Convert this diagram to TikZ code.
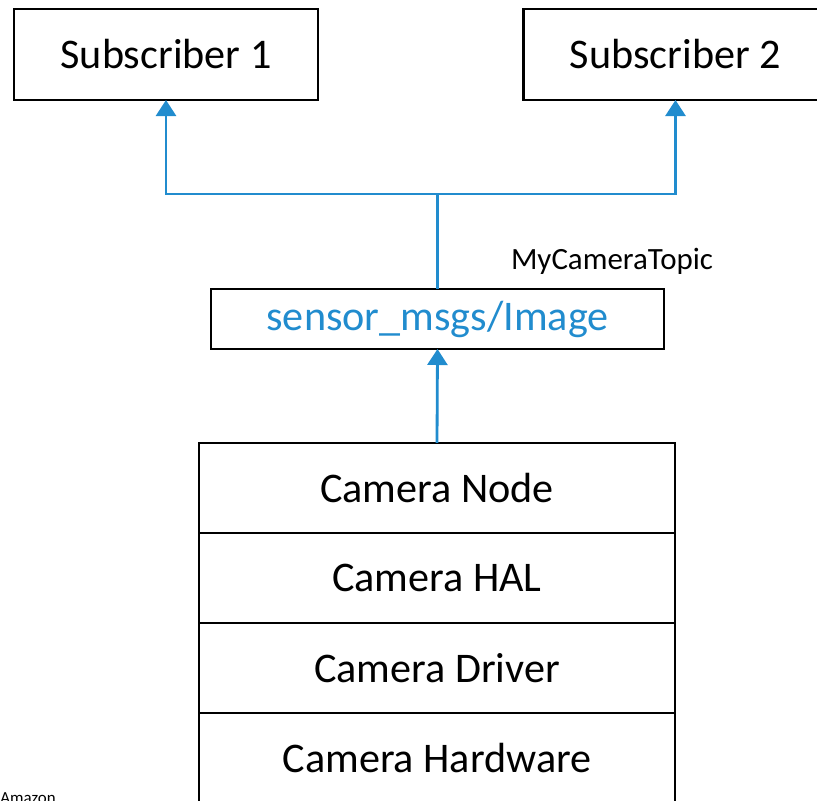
\documentclass[tikz,border=0pt]{standalone}
\usepackage{fontspec}
\setmainfont{Carlito}
\usepackage{xcolor}
\usetikzlibrary{positioning,arrows.meta}
\definecolor{rosblue}{RGB}{33,140,206}

\tikzset{
  box/.style={draw, line width=1.6pt, inner sep=0pt, outer sep=0pt, font=\fontsize{30}{36}\selectfont},
  layer/.style={box, minimum width=11.9cm, minimum height=2.25cm},
  flow/.style={rosblue, line width=2pt, -{Triangle[length=0.4cm,width=0.5cm]}}
}

\begin{document}
\begin{tikzpicture}[x=0.025cm, y=-0.025cm]
    \useasboundingbox (0,0) rectangle (817,801);
    \node[box, minimum width=7.6cm, minimum height=2.275cm] (sub1) at (166,54.5) {Subscriber 1};
    \node[box, minimum width=7.6cm, minimum height=2.275cm] (sub2) at (675.5,54.5) {Subscriber 2};
    \node[box, minimum width=11.33cm, minimum height=1.5cm, text=rosblue] (msg) at (437.5,319) {sensor\_msgs/Image};
    \node[font=\fontsize{22}{26}\selectfont] (topic) at (612,261) {MyCameraTopic};

    % camera stack
    \node[layer] (camnode) at (437,488) {Camera Node};
    \node[layer, below=0pt of camnode] (hal) {Camera HAL};
    \node[layer, below=0pt of hal] (driver) {Camera Driver};
    \node[layer, below=0pt of driver] (hw) {Camera Hardware};

    \node[anchor=north west, inner sep=0pt, font=\fontsize{12}{14}\selectfont] (amazon) at (0,792) {Amazon};

    \draw[flow] (camnode.north) -- (msg.south);
    \draw[rosblue, line width=2pt] (msg.north) -- ++(0,-95) coordinate (split);
    \draw[flow] (split) -| (sub1.south);
    \draw[flow] (split) -| (sub2.south);
\end{tikzpicture}
\end{document}
